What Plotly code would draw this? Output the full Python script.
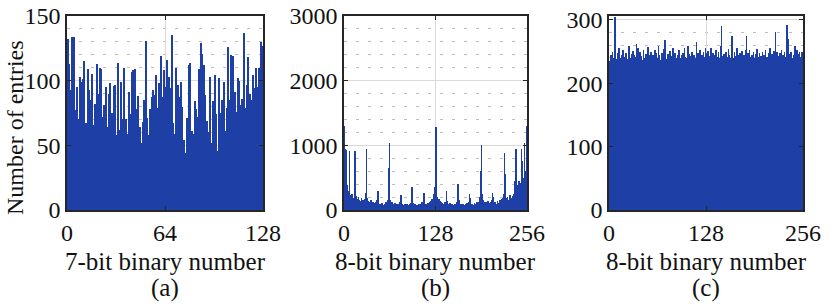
import plotly.graph_objects as go

# ---------------- data ----------------
bins_a = list(range(128))
counts_a = [
    132, 113, 93, 134, 134, 77, 95, 70, 103, 99, 101, 115, 67, 109, 93, 85,
    105, 66, 82, 113, 90, 110, 109, 72, 81, 95, 64, 90, 98, 75, 96, 97,
    58, 114, 62, 99, 70, 110, 70, 59, 91, 74, 107, 108, 109, 78, 88, 64,
    52, 68, 85, 131, 71, 58, 78, 87, 93, 89, 104, 79, 98, 119, 87, 108,
    95, 116, 103, 94, 135, 67, 59, 110, 97, 87, 99, 80, 54, 44, 71, 112,
    114, 61, 59, 84, 78, 72, 109, 129, 121, 112, 89, 69, 60, 103, 52, 84,
    104, 74, 46, 102, 75, 85, 99, 61, 79, 126, 85, 120, 119, 91, 76, 102,
    100, 81, 86, 137, 79, 97, 118, 90, 85, 104, 94, 110, 95, 110, 130, 127,
]

bins_b = list(range(256))
counts_b = [
    1300, 950, 420, 930, 380, 300, 260, 910, 230, 180, 210, 250, 160, 190, 450, 910,
    220, 150, 170, 130, 200, 160, 110, 140, 180, 120, 150, 100, 130, 170, 260, 940,
    180, 140, 90, 120, 110, 150, 80, 100, 130, 90, 110, 70, 120, 140, 160, 300,
    120, 80, 100, 70, 90, 110, 60, 80, 100, 70, 130, 90, 110, 150, 650, 1040,
    160, 100, 80, 120, 70, 90, 60, 110, 80, 50, 100, 70, 90, 130, 120, 230,
    220, 90, 60, 80, 50, 100, 70, 60, 90, 50, 80, 70, 100, 110, 160, 350,
    110, 70, 60, 90, 50, 70, 80, 60, 100, 50, 70, 90, 80, 130, 120, 270,
    150, 90, 70, 100, 60, 110, 80, 130, 100, 140, 120, 170, 160, 240, 300, 350,
    1280, 280, 200, 150, 170, 120, 140, 90, 130, 110, 80, 100, 70, 120, 90, 300,
    140, 80, 90, 60, 110, 70, 50, 90, 80, 60, 100, 70, 90, 120, 110, 400,
    150, 80, 60, 90, 50, 70, 100, 60, 80, 50, 90, 70, 110, 80, 130, 240,
    180, 90, 70, 100, 60, 80, 110, 70, 90, 120, 80, 130, 100, 150, 200, 600,
    1010, 240, 160, 110, 130, 90, 120, 80, 100, 140, 90, 110, 80, 130, 160, 270,
    200, 110, 90, 130, 70, 100, 140, 80, 110, 90, 150, 120, 170, 140, 180, 250,
    875, 560, 180, 140, 200, 150, 120, 170, 230, 140, 180, 210, 160, 250, 320, 450,
    940, 300, 250, 380, 450, 280, 350, 420, 940, 765, 400, 500, 1030, 600, 420, 1300,
]

bins_c = list(range(256))
counts_c = [
    235, 228, 245, 232, 250, 226, 240, 305, 230, 238, 222, 248, 235, 255, 240, 229,
    244, 236, 252, 230, 241, 226, 247, 205, 238, 233, 258, 240, 229, 246, 236, 251,
    232, 245, 238, 241, 262, 228, 255, 236, 249, 230, 243, 237, 226, 252, 240, 234,
    246, 239, 231, 257, 244, 236, 229, 250, 241, 222, 245, 238, 253, 233, 247, 240,
    230, 259, 244, 236, 226, 248, 241, 235, 254, 268, 262, 238, 229, 246, 240, 232,
    251, 237, 243, 230, 256, 241, 234, 248, 227, 239, 245, 231, 252, 240, 236, 244,
    229, 247, 238, 255, 242, 233, 240, 228, 258, 246, 237, 243, 231, 250, 239, 235,
    244, 232, 240, 265, 236, 248, 241, 230, 253, 238, 245, 234, 249, 242, 237, 256,
    247, 238, 251, 236, 243, 230, 255, 240, 234, 248, 229, 244, 237, 252, 241, 233,
    249, 240, 236, 258, 291, 231, 243, 246, 238, 233, 250, 241, 236, 254, 244, 239,
    232, 247, 274, 240, 235, 249, 228, 243, 256, 237, 244, 231, 248, 239, 234, 251,
    240, 236, 245, 229, 253, 275, 238, 247, 233, 252, 241, 237, 244, 230, 249, 240,
    238, 246, 231, 254, 241, 237, 248, 234, 243, 227, 250, 239, 245, 233, 252, 241,
    241, 236, 248, 230, 255, 242, 237, 246, 232, 251, 240, 280, 236, 249, 238, 243,
    233, 247, 239, 252, 236, 244, 230, 250, 241, 237, 292, 243, 270, 238, 246, 234,
    249, 240, 236, 245, 231, 258, 244, 239, 252, 237, 246, 250, 241, 236, 250, 244,
]

xtick_a = [0, 64, 128]
xtick_bc = [0, 128, 256]
ytick_a = [0, 50, 100, 150]
ytick_b = [0, 1000, 2000, 3000]
ytick_c = [0, 100, 200, 300]

xtitles = ["7-bit binary number", "8-bit binary number", "8-bit binary number"]
panel_labels = ["(a)", "(b)", "(c)"]
ytitle = "Number of entries"

# ---------------- style ----------------
W, H = 830, 305
BAR = "#1E3FA6"
FONT = "Liberation Serif"
FS_TICK = 24
FS_TITLE = 25
AX = "#262626"
TXT = "#111111"

xdom = [[67 / W, 263 / W], [344 / W, 527 / W], [609 / W, 803 / W]]
ydom = [1 - 210 / H, 1 - 16 / H]
bar_w = [0.85, 0.9, 0.9]

fig = go.Figure()
series = [(bins_a, counts_a), (bins_b, counts_b), (bins_c, counts_c)]
for i, (bx, cy) in enumerate(series):
    sfx = "" if i == 0 else str(i + 1)
    fig.add_trace(go.Bar(
        x=bx, y=cy, width=bar_w[i], offset=(1 - bar_w[i]) / 2,
        marker=dict(color=BAR, line=dict(width=0)),
        xaxis="x" + sfx, yaxis="y" + sfx, showlegend=False,
        hoverinfo="skip",
    ))

xranges = [[0, 128], [0, 256], [0, 256]]
yranges = [[0, 150], [0, 3000], [0, 306]]
xticks = [xtick_a, xtick_bc, xtick_bc]
yticks = [ytick_a, ytick_b, ytick_c]
minors = [10, 200, 20]

common_axis = dict(
    showline=True, linecolor=AX, linewidth=1.6, mirror="ticks",
    ticks="inside", ticklen=4, tickwidth=1.2, tickcolor=AX,
    showgrid=True, gridcolor="#dadada", gridwidth=1.2, zeroline=False,
    tickfont=dict(family=FONT, size=FS_TICK, color=TXT),
    automargin=False,
)

layout = dict(
    template="none",
    width=W, height=H, autosize=False,
    margin=dict(l=0, r=0, t=0, b=0, pad=0),
    paper_bgcolor="white", plot_bgcolor="white",
    bargap=0, font=dict(family=FONT, size=FS_TICK, color=TXT),
)
for i in range(3):
    sfx = "" if i == 0 else str(i + 1)
    layout["xaxis" + sfx] = dict(
        common_axis, domain=xdom[i], range=xranges[i],
        tickmode="array", tickvals=xticks[i], ticktext=[str(v) for v in xticks[i]],
        anchor="y" + sfx, fixedrange=True,
    )
    layout["yaxis" + sfx] = dict(
        common_axis, domain=ydom, range=yranges[i],
        tickmode="array", tickvals=yticks[i], ticktext=[str(v) for v in yticks[i]],
        anchor="x" + sfx, fixedrange=True,
        minor=dict(dtick=minors[i], showgrid=True, gridcolor="#bdbdbd",
                   griddash="3px,9px", gridwidth=1, ticklen=0),
    )
fig.update_layout(**layout)

anns = []
for i in range(3):
    cx = (xdom[i][0] + xdom[i][1]) / 2
    anns.append(dict(text=xtitles[i], x=cx, y=1 - 261 / H, xref="paper", yref="paper",
                     showarrow=False, xanchor="center", yanchor="middle",
                     font=dict(family=FONT, size=FS_TITLE, color=TXT)))
    anns.append(dict(text=panel_labels[i], x=cx, y=1 - 288 / H, xref="paper", yref="paper",
                     showarrow=False, xanchor="center", yanchor="middle",
                     font=dict(family=FONT, size=FS_TITLE, color=TXT)))
anns.append(dict(text=ytitle, x=15 / W, y=1 - 128 / H, xref="paper", yref="paper",
                 showarrow=False, textangle=-90, xanchor="center", yanchor="middle",
                 font=dict(family=FONT, size=24, color=TXT)))
fig.update_layout(annotations=anns)

fig.write_html(
    "out.html",
    config={"displayModeBar": False},
    post_script="document.body.style.margin='0';document.body.style.overflow='hidden';",
)
